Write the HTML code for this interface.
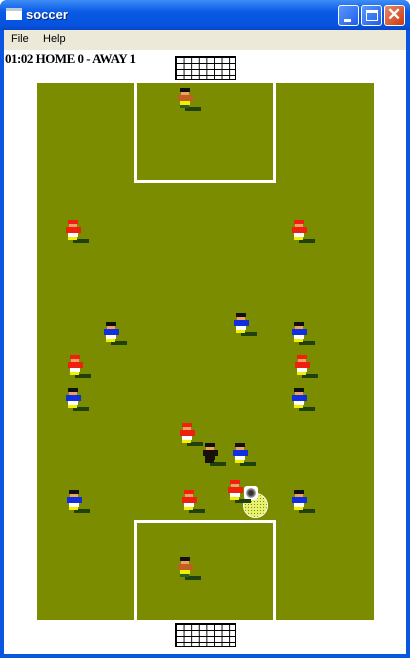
<!DOCTYPE html>
<html><head><style>
*{margin:0;padding:0;box-sizing:border-box}
body{width:410px;height:658px;overflow:hidden;background:#fff;font-family:"Liberation Sans",sans-serif;position:relative}
.abs{position:absolute}
#frame{left:0;top:0;width:410px;height:658px;background:#0a56e0;border-radius:7px 7px 0 0}
#title{left:0;top:0;width:410px;height:30px;background:linear-gradient(#3d8cf6,#0a5ae6 40%,#0553de 85%,#0845c8);border-radius:7px 7px 0 0}
.tbtn{top:5px;width:21px;height:21px;border:1px solid #fff;border-radius:3px;background:linear-gradient(135deg,#5a97ff,#1f5ee8)}
#menu{left:4px;top:30px;width:402px;height:20px;background:#ece9d8;font-size:11px}
#client{left:4px;top:50px;width:402px;height:604px;background:#fff}
#field{left:37px;top:83px;width:337px;height:537px;background:#7b8c00}
.net{background-image:linear-gradient(90deg,#000 1px,transparent 1px),linear-gradient(#000 1px,transparent 1px);background-size:7.6px 100%,100% 6px;border:1px solid #000;background-color:#fff}
</style></head><body>
<div class="abs" id="frame"></div>
<div class="abs" id="title">
 <div class="abs" style="left:6px;top:8px;width:16px;height:12px;background:#fff;border-top:3px solid #bcd"></div>
 <div class="abs" style="left:26px;top:7px;color:#fff;font-weight:bold;font-size:13px;text-shadow:1px 1px #0a2a80">soccer</div>
 <div class="abs tbtn" style="left:338px"><div class="abs" style="left:5px;top:13px;width:7px;height:3px;background:#fff"></div></div>
 <div class="abs tbtn" style="left:361px"><div class="abs" style="left:4px;top:4px;width:12px;height:11px;border:1px solid #fff;border-top:3px solid #fff"></div></div>
 <div class="abs tbtn" style="left:384px;background:linear-gradient(135deg,#e88a6a,#c83a10)"><div class="abs" style="left:2px;top:-1px;color:#fff;font-size:17px;font-weight:bold">✕</div></div>
</div>
<div class="abs" id="menu">
 <span class="abs" style="left:7px;top:3px">File</span>
 <span class="abs" style="left:39px;top:3px">Help</span>
</div>
<div class="abs" id="client"></div>
<div class="abs" style="left:5px;top:51px;font-family:'Liberation Serif',serif;font-weight:bold;font-size:13px;letter-spacing:-0.5px">01:02 HOME 0 - AWAY 1</div>
<div class="abs net" style="left:175px;top:56px;width:61px;height:24px"></div>
<div class="abs net" style="left:175px;top:623px;width:61px;height:24px"></div>
<div class="abs" id="field">
 <div class="abs" style="left:97px;top:0;width:142px;height:100px;border:3px solid #fff;border-top:none"></div>
 <div class="abs" style="left:97px;top:437px;width:142px;height:100px;border:3px solid #fff;border-bottom:none"></div>
</div>
<div class="abs" style="left:243px;top:493px;width:25px;height:25px;border-radius:50%;background:#e8f070;background-image:radial-gradient(#7b8c00 0.6px,transparent 0.7px);background-size:3px 3px;border:1px solid #fff"></div>
<div class="abs" style="left:244px;top:486px;width:14px;height:14px;background:#fff;border-radius:3px"><div class="abs" style="left:2px;top:2px;width:10px;height:10px;border-radius:50%;background:radial-gradient(#333 30%,#999 60%,#eee)"></div></div>
<div id="players"></div>
<script>
const players=[
 ['gk',178,88],['red',66,220],['red',292,220],['red',68,355],['red',295,355],['red',180,423],['red',182,490],['red',228,480],
 ['blue',104,322],['blue',234,313],['blue',292,322],['blue',66,388],['blue',292,388],['blue',233,443],['blue',67,490],['blue',292,490],
 ['ref',203,443],['gk',178,557]];
const cols={red:['#f02010','#fff','#f0f000'],blue:['#1030e0','#fff','#f0f000'],gk:['#c06020','#f0f000','#306020'],ref:['#181008','#181008','#181008']};
const wrap=document.getElementById('players');
players.forEach(p=>{
 const c=cols[p[0]];const d=document.createElement('div');
 
 
 d.className='abs';d.style.left=p[1]+'px';d.style.top=p[2]+'px';d.style.width='24px';d.style.height='26px';
 d.innerHTML=`<div class="abs" style="left:7px;top:19px;width:16px;height:4px;background:#204010"></div>
 <div class="abs" style="left:2px;top:0;width:10px;height:4px;background:${p[0]=='red'?'#f02010':'#101010'}"></div>
 <div class="abs" style="left:3px;top:4px;width:8px;height:3px;background:#f0a060"></div>
 <div class="abs" style="left:0;top:7px;width:15px;height:6px;background:${c[0]}"></div>
 <div class="abs" style="left:2px;top:13px;width:10px;height:4px;background:${c[1]}"></div>
 <div class="abs" style="left:2px;top:17px;width:9px;height:3px;background:${c[2]}"></div>`;
 wrap.appendChild(d);
});
</script>
</body></html>
